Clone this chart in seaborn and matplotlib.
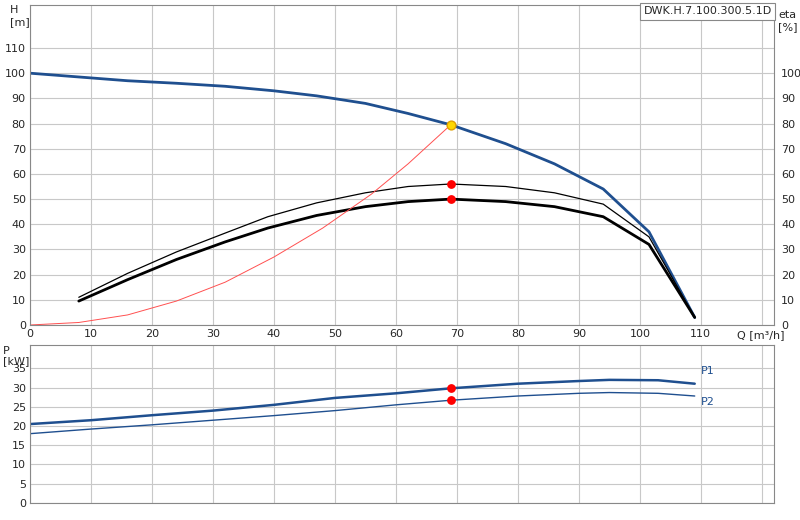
import matplotlib
matplotlib.use("Agg")
import matplotlib.pyplot as plt
import seaborn as sns

sns.set_style("white")
plt.rcParams['font.family'] = ['DejaVu Sans']

# pump head curve
q_h = [0, 8, 16, 24, 32, 40, 47, 55, 62, 69, 78, 86, 94, 101.5, 109]
h = [100, 98.5, 97, 96, 94.8, 93, 91, 88, 84, 79.5, 72, 64, 54, 37, 3]
# efficiency curves
q_eta = [8, 16, 24, 32, 39, 47, 55, 62, 69, 78, 86, 94, 101.5, 109]
eta_thick = [9.5, 18, 26, 33, 38.5, 43.5, 47, 49, 50, 49, 47, 43, 32, 3]
eta_thin = [11, 20.5, 29, 36.5, 43, 48.5, 52.5, 55, 56, 55, 52.5, 48, 35, 3]
# system curve
q_sys = [0, 8, 16, 24, 32, 40, 48, 56, 62, 69]
h_sys = [0, 1, 4, 9.5, 17, 27, 38.5, 52, 64, 79.5]
# power curves
q_p = [0, 10, 20, 30, 40, 50, 60, 69, 80, 90, 95, 103, 109]
p1 = [20.5, 21.5, 22.8, 24, 25.5, 27.3, 28.5, 29.8, 31, 31.7, 32, 31.9, 31]
p2 = [18, 19.2, 20.3, 21.5, 22.7, 24, 25.5, 26.7, 27.8, 28.5, 28.7, 28.5, 27.8]
# duty point
q_duty = 69
duty_h = 79.5
duty_eta = [56, 50]
duty_p = [29.8, 26.7]

blue = "#1f4f8f"
grid = "#c8c8c8"

fig = plt.figure(figsize=(8, 5.2), dpi=100)
ax = fig.add_axes([0.0375, 0.375, 0.93, 0.615])
axp = fig.add_axes([0.0375, 0.033, 0.93, 0.303])

def style(a):
    a.set_xlim(0, 122)
    a.set_xticks(range(0, 121, 10))
    a.grid(True, color=grid, lw=0.8)
    for s in a.spines.values():
        s.set_color("#888888")
        s.set_linewidth(0.8)
    a.tick_params(labelsize=8, length=0, pad=3)

style(ax)
ax.set_ylim(0, 127)
ax.set_yticks(range(0, 111, 10))
ax.set_xticklabels([str(v) for v in range(0, 111, 10)] + [""])
sns.lineplot(x=q_h, y=h, ax=ax, color=blue, lw=2, sort=False)
sns.lineplot(x=q_eta, y=eta_thick, ax=ax, color="black", lw=2, sort=False)
sns.lineplot(x=q_eta, y=eta_thin, ax=ax, color="black", lw=0.9, sort=False)
sns.lineplot(x=q_sys, y=h_sys, ax=ax, color="#ff5050", lw=0.7, sort=False)
ax.scatter([q_duty], [duty_h], s=40, color="#ffd700", edgecolor="#e0a000", zorder=5)
ax.scatter([q_duty] * 2, duty_eta, s=28, color="red", zorder=5)
ax2 = ax.twinx()
ax2.set_ylim(0, 127)
ax2.set_yticks(range(0, 101, 10))
ax2.tick_params(labelsize=8, length=0, pad=5)
for s in ax2.spines.values():
    s.set_visible(False)
fig.text(0.012, 0.99, "H\n[m]", fontsize=8, va="top", ha="left")
fig.text(0.973, 0.98, "eta\n[%]", fontsize=8, va="top", ha="left")
ax.text(0.997, 0.997, "DWK.H.7.100.300.5.1D", transform=ax.transAxes, fontsize=8,
        va="top", ha="right", bbox=dict(fc="white", ec="#888888", lw=0.8, pad=2.5))
ax.text(116, -4, "Q [m³/h]", fontsize=8, va="center", ha="left")

style(axp)
axp.set_ylim(0, 41)
axp.set_yticks(range(0, 36, 5))
axp.set_xticklabels([])
sns.lineplot(x=q_p, y=p1, ax=axp, color=blue, lw=1.8, sort=False)
sns.lineplot(x=q_p, y=p2, ax=axp, color=blue, lw=1.0, sort=False)
axp.scatter([q_duty] * 2, duty_p, s=28, color="red", zorder=5)
axp.text(110, 33.5, "P1", fontsize=8, color=blue)
axp.text(110, 25.5, "P2", fontsize=8, color=blue)
fig.text(0.004, 0.335, "P\n[kW]", fontsize=8, va="top", ha="left", linespacing=1.0)

fig.savefig("out.png", dpi=100)
